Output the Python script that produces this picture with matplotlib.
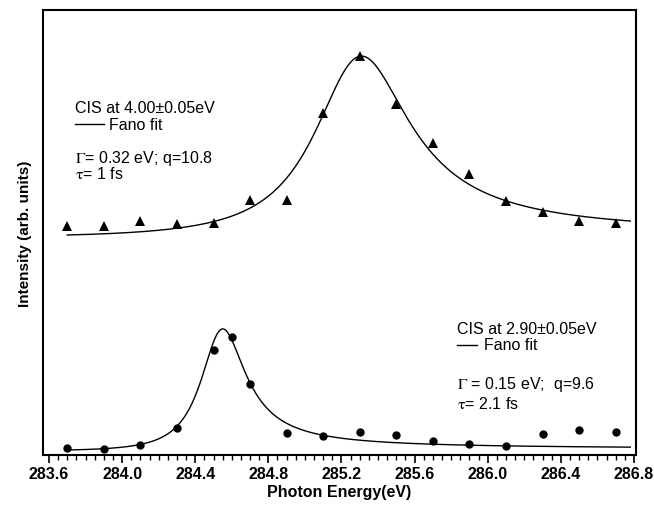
import numpy as np
import matplotlib.pyplot as plt
from matplotlib.ticker import MultipleLocator

plt.rcParams['font.family'] = ['Liberation Sans', 'DejaVu Sans']
plt.rcParams['mathtext.fontset'] = 'stix'

# measured photoemission intensities (arb. units)
energy = [283.7, 283.9, 284.1, 284.3, 284.5, 284.7, 284.9, 285.1,
          285.3, 285.5, 285.7, 285.9, 286.1, 286.3, 286.5, 286.7]
cis_400 = [2.29, 2.29, 2.34, 2.31, 2.32, 2.55, 2.55, 3.42,
           3.99, 3.51, 3.12, 2.81, 2.54, 2.43, 2.34, 2.32]

energy_low = [283.7, 283.9, 284.1, 284.3, 284.5, 284.6, 284.7, 284.9, 285.1,
              285.3, 285.5, 285.7, 285.9, 286.1, 286.3, 286.5, 286.7]
cis_290 = [0.07, 0.06, 0.10, 0.27, 1.05, 1.18, 0.71, 0.22, 0.19,
           0.23, 0.20, 0.14, 0.11, 0.09, 0.21, 0.25, 0.23]

# Fano fit parameters: width, asymmetry q, resonance energy, scale, offset
fit_400 = dict(gamma=0.32, q=10.8, e0=285.28, amp=0.01539, base=2.179)
fit_290 = dict(gamma=0.15, q=9.6, e0=284.535, amp=0.01307, base=0.0434)


def fano(e, gamma, q, e0, amp, base):
    eps = (e - e0) / gamma
    return base + amp * (q + eps) ** 2 / (1 + eps ** 2)


fig = plt.figure(figsize=(6.54, 5.10), dpi=100)
ax = fig.add_axes([0.0657, 0.1059, 0.9067, 0.8725])

e_fit = np.linspace(283.7, 286.78, 600)
ax.plot(e_fit, fano(e_fit, **fit_400), color='black', lw=1.0)
ax.plot(e_fit, fano(e_fit, **fit_290), color='black', lw=1.0)
ax.plot(energy, cis_400, '^', color='black', ms=6.5, mew=0)
ax.plot(energy_low, cis_290, 'o', color='black', ms=6, mew=0)

ax.set_xlim(283.567, 286.811)
ax.set_ylim(0, 4.45)
ax.xaxis.set_major_locator(MultipleLocator(0.4))
ax.xaxis.set_minor_locator(MultipleLocator(0.05))
ax.xaxis.set_major_formatter(plt.FormatStrFormatter('%.1f'))
ax.set_yticks([])
ax.tick_params(axis='x', which='major', direction='out', length=6, width=1.2, pad=2)
ax.tick_params(axis='x', which='minor', direction='out', length=3.5, width=1.0)
for lbl in ax.get_xticklabels():
    lbl.set_fontsize(11.5)
    lbl.set_fontweight('bold')
for sp in ax.spines.values():
    sp.set_linewidth(1.5)

ax.set_xlabel('Photon Energy(eV)', fontsize=11.5, fontweight='bold', labelpad=2)
ax.set_ylabel('Intensity (arb. units)', fontsize=11, fontweight='bold', labelpad=8)

txt = dict(fontsize=11.5, color='black', va='center', ha='left')
# upper curve annotations
ax.text(283.74, 3.48, 'CIS at 4.00\u00b10.05eV', **txt)
ax.plot([283.74, 283.9], [3.31, 3.31], color='black', lw=1.0)
ax.text(283.93, 3.31, 'Fano fit', **txt)
ax.text(283.74, 2.98, r'$\mathrm{\Gamma}$= 0.32 eV; q=10.8', **txt)
ax.text(283.74, 2.82, r'$\mathrm{\tau}$= 1 fs', **txt)
# lower curve annotations
ax.text(285.83, 1.26, 'CIS at 2.90\u00b10.05eV', **txt)
ax.plot([285.83, 285.94], [1.10, 1.10], color='black', lw=1.0)
ax.text(285.98, 1.10, 'Fano fit', **txt)
ax.text(285.83, 0.71, r'$\mathrm{\Gamma}$ = 0.15 eV;  q=9.6', **txt)
ax.text(285.83, 0.52, r'$\mathrm{\tau}$= 2.1 fs', **txt)

fig.savefig('out.png', dpi=100)
